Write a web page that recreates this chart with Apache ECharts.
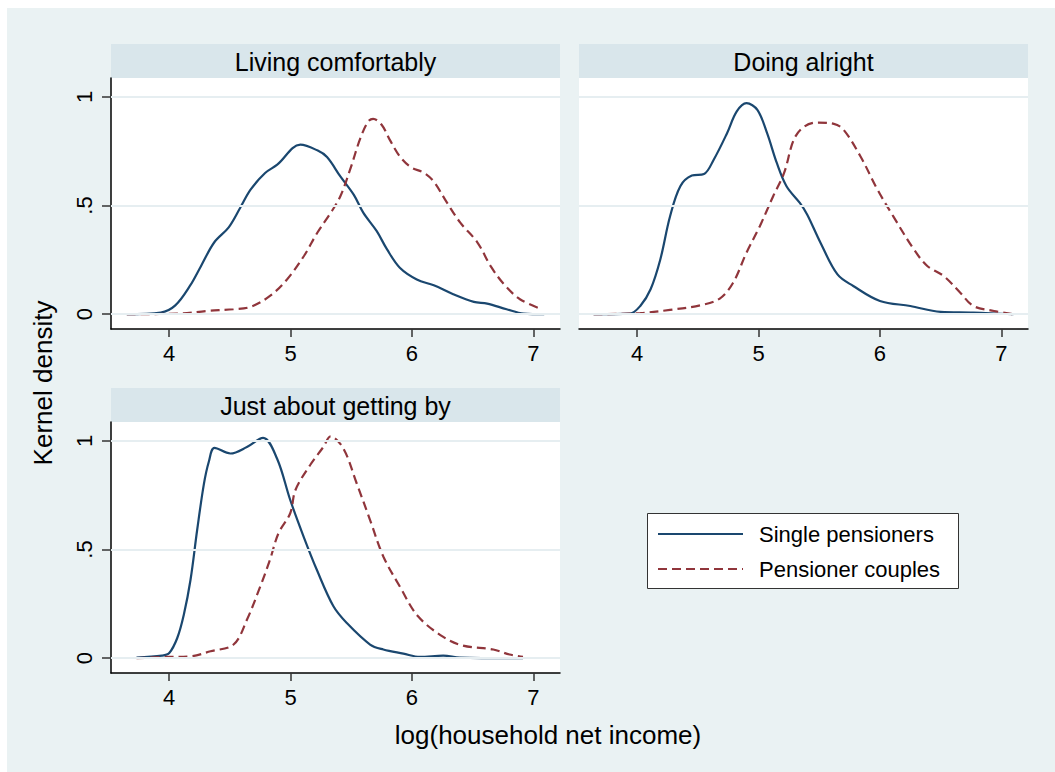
<!DOCTYPE html>
<html>
<head>
<meta charset="utf-8">
<script src="https://cdn.jsdelivr.net/npm/echarts@6/dist/echarts.min.js"></script>
<style>
html,body{margin:0;padding:0;background:#ffffff;}
#chart{width:1055px;height:772px;}
</style>
</head>
<body>
<div id="chart"></div>
<script>
// ---- Data ----
var panelTitles = ['Living comfortably', 'Doing alright', 'Just about getting by'];
var seriesNames = ['Single pensioners', 'Pensioner couples'];
var xTicks = [4, 5, 6, 7];
var yTicks = [0, 0.5, 1];
var yTickLabels = {'0': '0', '0.5': '.5', '1': '1'};
var xTitle = 'log(household net income)';
var yTitle = 'Kernel density';

var comfortableSingle = [[3.65,0],[3.93,0.008],[4.05,0.041],[4.17,0.13],[4.26,0.22],[4.37,0.33],[4.49,0.40],[4.585,0.49],[4.67,0.573],[4.79,0.65],[4.89,0.688],[5.08,0.78],[5.22,0.754],[5.30,0.723],[5.41,0.634],[5.52,0.55],[5.60,0.466],[5.71,0.382],[5.795,0.298],[5.90,0.214],[6.04,0.16],[6.18,0.133],[6.34,0.092],[6.51,0.057],[6.62,0.049],[6.78,0.023],[6.92,0.003],[7.09,0]];
var comfortableCouples = [[3.65,0],[4.09,0.003],[4.31,0.015],[4.53,0.023],[4.67,0.034],[4.83,0.084],[4.97,0.16],[5.11,0.268],[5.22,0.375],[5.33,0.466],[5.41,0.543],[5.49,0.665],[5.575,0.81],[5.64,0.887],[5.68,0.899],[5.75,0.872],[5.82,0.80],[5.90,0.726],[5.99,0.677],[6.10,0.65],[6.18,0.61],[6.29,0.512],[6.40,0.42],[6.54,0.33],[6.65,0.22],[6.76,0.137],[6.89,0.069],[7.07,0.023]];

var alrightSingle = [[3.64,0],[3.94,0.003],[4.025,0.038],[4.11,0.115],[4.19,0.252],[4.27,0.45],[4.355,0.589],[4.45,0.638],[4.55,0.645],[4.63,0.711],[4.74,0.833],[4.82,0.933],[4.90,0.971],[4.99,0.94],[5.07,0.833],[5.15,0.696],[5.23,0.589],[5.34,0.512],[5.40,0.459],[5.51,0.329],[5.65,0.183],[5.78,0.13],[6.00,0.061],[6.25,0.038],[6.50,0.011],[6.77,0.008],[7.10,0]];
var alrightCouples = [[3.64,0],[4.025,0.005],[4.27,0.02],[4.52,0.041],[4.68,0.072],[4.79,0.145],[4.90,0.283],[5.01,0.405],[5.12,0.543],[5.21,0.65],[5.29,0.803],[5.37,0.861],[5.48,0.882],[5.62,0.876],[5.70,0.849],[5.84,0.726],[5.98,0.573],[6.11,0.45],[6.28,0.298],[6.39,0.222],[6.525,0.176],[6.66,0.1],[6.77,0.038],[6.94,0.015],[7.10,0]];

var gettingBySingle = [[3.73,0.003],[3.94,0.012],[4.0,0.024],[4.066,0.093],[4.12,0.2],[4.175,0.36],[4.23,0.59],[4.285,0.80],[4.326,0.904],[4.373,0.968],[4.504,0.942],[4.64,0.972],[4.773,1.014],[4.888,0.919],[4.997,0.728],[5.107,0.56],[5.216,0.407],[5.353,0.239],[5.463,0.162],[5.655,0.063],[5.764,0.04],[5.929,0.021],[6.066,0.006],[6.258,0.012],[6.395,0.003],[6.915,0]];
var gettingByCouples = [[3.73,0],[3.98,0.006],[4.175,0.009],[4.34,0.032],[4.53,0.063],[4.64,0.177],[4.75,0.33],[4.83,0.453],[4.90,0.575],[4.997,0.667],[5.04,0.774],[5.16,0.888],[5.27,0.972],[5.33,1.021],[5.435,0.965],[5.545,0.804],[5.655,0.636],[5.764,0.468],[5.90,0.33],[6.05,0.193],[6.258,0.098],[6.42,0.058],[6.67,0.04],[6.805,0.017],[6.915,0.006]];

// ---- Styling / layout ----
var NAVY = '#1a476f', MAROON = '#90353b';
var BG = '#eaf2f3', STRIP = '#d9e6eb', GRIDC = '#e6eef1';
var FONT = '"Liberation Sans", Arial, Helvetica, sans-serif';
var grids = [
  {left: 111, top: 78, width: 449, height: 251},
  {left: 579, top: 78, width: 449, height: 251},
  {left: 111, top: 422, width: 449, height: 251}
];
var stripH = 34;

var panelData = [
  [comfortableSingle, comfortableCouples],
  [alrightSingle, alrightCouples],
  [gettingBySingle, gettingByCouples]
];

var xAxes = [], yAxes = [], series = [], graphics = [];

graphics.push({type: 'rect', z: -10, shape: {x: 7, y: 8, width: 1048, height: 764}, style: {fill: BG}});

grids.forEach(function (g, i) {
  graphics.push({type: 'rect', z: -5, shape: {x: g.left, y: g.top - stripH, width: g.width, height: stripH}, style: {fill: STRIP}});
  graphics.push({type: 'text', z: 5, x: g.left + g.width / 2, y: g.top - stripH / 2 + 1,
    style: {text: panelTitles[i], fill: '#000', font: '25px ' + FONT, textAlign: 'center', textVerticalAlign: 'middle'}});

  xAxes.push({
    type: 'value', gridIndex: i, min: 3.52, max: 7.22, position: 'bottom',
    axisLine: {show: true, onZero: false, lineStyle: {color: '#000', width: 1.5}},
    axisTick: {show: true, length: 8, customValues: xTicks, lineStyle: {color: '#333', width: 1.5}},
    axisLabel: {show: true, customValues: xTicks, margin: 13, color: '#000', fontSize: 22, fontFamily: FONT},
    splitLine: {show: false}
  });
  var showY = (i !== 1);
  yAxes.push({
    type: 'value', gridIndex: i, min: -0.068, max: 1.087, position: 'left',
    axisLine: {show: showY, onZero: false, lineStyle: {color: '#000', width: 1.5}},
    axisTick: {show: showY, length: 9, customValues: yTicks, lineStyle: {color: '#333', width: 1.5}},
    axisLabel: {show: showY, customValues: yTicks, rotate: 90, margin: 16, color: '#000', fontSize: 22, fontFamily: FONT,
      formatter: function (v) { return yTickLabels[String(v)] !== undefined ? yTickLabels[String(v)] : String(v); }},
    splitLine: {show: false}
  });

  // gridlines beneath curves
  series.push({
    type: 'line', name: 'grid' + i, xAxisIndex: i, yAxisIndex: i, data: [], z: 1, silent: true,
    markLine: {silent: true, symbol: 'none', label: {show: false},
      lineStyle: {color: GRIDC, width: 2, type: 'solid'},
      data: yTicks.map(function (t) { return {yAxis: t}; })}
  });

  series.push({
    type: 'line', name: seriesNames[0], xAxisIndex: i, yAxisIndex: i, data: panelData[i][0],
    symbol: 'none', smooth: 0.35, z: 3, lineStyle: {color: NAVY, width: 2.2}, itemStyle: {color: NAVY}
  });
  series.push({
    type: 'line', name: seriesNames[1], xAxisIndex: i, yAxisIndex: i, data: panelData[i][1],
    symbol: 'none', smooth: 0.35, z: 3, lineStyle: {color: MAROON, width: 2.2, type: [9, 5]}, itemStyle: {color: MAROON}
  });
});

// legend box
graphics.push({type: 'rect', z: -4, shape: {x: 647.5, y: 513.5, width: 311, height: 75}, style: {fill: '#fff', stroke: '#333', lineWidth: 1}});
// axis titles
graphics.push({type: 'text', x: 548, y: 735, style: {text: xTitle, fill: '#000', font: '26px ' + FONT, textAlign: 'center', textVerticalAlign: 'middle'}});
graphics.push({type: 'text', x: 43, y: 383, rotation: Math.PI / 2, style: {text: yTitle, fill: '#000', font: '26px ' + FONT, textAlign: 'center', textVerticalAlign: 'middle'}});

var option = {
  animation: false,
  backgroundColor: '#ffffff',
  grid: grids.map(function (g) { return {left: g.left, top: g.top, width: g.width, height: g.height, show: true, backgroundColor: '#ffffff', borderWidth: 0, containLabel: false}; }),
  xAxis: xAxes,
  yAxis: yAxes,
  legend: {
    data: seriesNames, orient: 'vertical', left: 657, top: 523, padding: 0,
    itemWidth: 85, itemHeight: 2, itemGap: 13,
    itemStyle: {color: 'transparent', borderColor: 'transparent', borderWidth: 0, opacity: 0},
    textStyle: {fontSize: 22, color: '#000', fontFamily: FONT, padding: [0, 0, 0, 11]}
  },
  graphic: graphics,
  series: series
};

var chart = echarts.init(document.getElementById('chart'), null, {renderer: 'svg'});
chart.setOption(option);
</script>
</body>
</html>
